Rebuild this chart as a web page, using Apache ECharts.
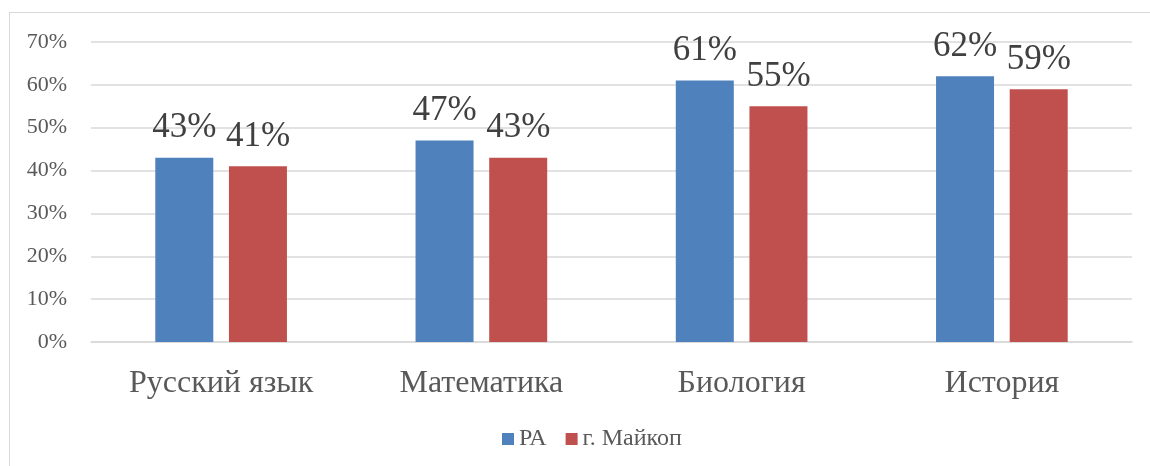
<!DOCTYPE html>
<html>
<head>
<meta charset="utf-8">
<script src="https://cdn.jsdelivr.net/npm/echarts@6/dist/echarts.min.js"></script>
<style>
	body { margin: 0; background: #fff; overflow: hidden; }
	#frame { position: absolute; left: 9px; top: 12px; width: 1200px; height: 500px; border-left: 1px solid #d9d9d9; border-top: 1px solid #d9d9d9; }
	#chart { position: absolute; left: 0; top: 0; width: 1150px; height: 466px; }
</style>
</head>
<body>
<div id="frame"></div>
<div id="chart"></div>
<script>
// предметы и значения
var subjects = [ 'Русский язык', 'Математика', 'Биология', 'История' ];
var seriesNames = [ 'РА', 'г. Майкоп' ];
var raValues = [ 43, 47, 61, 62 ];
var maykopValues = [ 41, 43, 55, 59 ];
var yTicks = [ 0, 10, 20, 30, 40, 50, 60, 70 ];

var serif = '"Liberation Serif", "DejaVu Serif", serif';

function barLabel() {
	return {
		show : true,
		position : 'top',
		distance : 12,
		formatter : '{c}%',
		fontFamily : serif,
		fontSize : 35,
		color : '#404040'
	};
}

var chart = echarts.init(document.getElementById('chart'));
var option = {
	animation : false,
	grid : {
		left : 91,
		right : 18,
		top : 42,
		bottom : 124
	},
	legend : {
		bottom : 10,
		left : 497,
		itemWidth : 12,
		itemHeight : 12,
		itemGap : 19,
		icon : 'rect',
		textStyle : {
			fontFamily : serif,
			fontSize : 24,
			color : '#595959'
		},
		data : seriesNames
	},
	xAxis : {
		type : 'category',
		data : subjects,
		axisTick : { show : false },
		axisLine : { lineStyle : { color : '#d9d9d9', width : 1.5 } },
		axisLabel : {
			fontFamily : serif,
			fontSize : 32,
			color : '#595959',
			margin : 26
		}
	},
	yAxis : {
		type : 'value',
		min : yTicks[0],
		max : yTicks[yTicks.length - 1],
		interval : 10,
		axisLine : { show : false },
		axisTick : { show : false },
		splitLine : { lineStyle : { color : '#d9d9d9', width : 1.5 } },
		axisLabel : {
			formatter : '{value}%',
			fontFamily : serif,
			fontSize : 22,
			color : '#595959',
			margin : 24
		}
	},
	series : [ {
		name : seriesNames[0],
		type : 'bar',
		data : raValues,
		barWidth : 58,
		barGap : '27%',
		itemStyle : { color : '#4f81bd' },
		label : barLabel()
	}, {
		name : seriesNames[1],
		type : 'bar',
		data : maykopValues,
		barWidth : 58,
		itemStyle : { color : '#c0504d' },
		label : barLabel()
	} ]
};
chart.setOption(option);
</script>
</body>
</html>
